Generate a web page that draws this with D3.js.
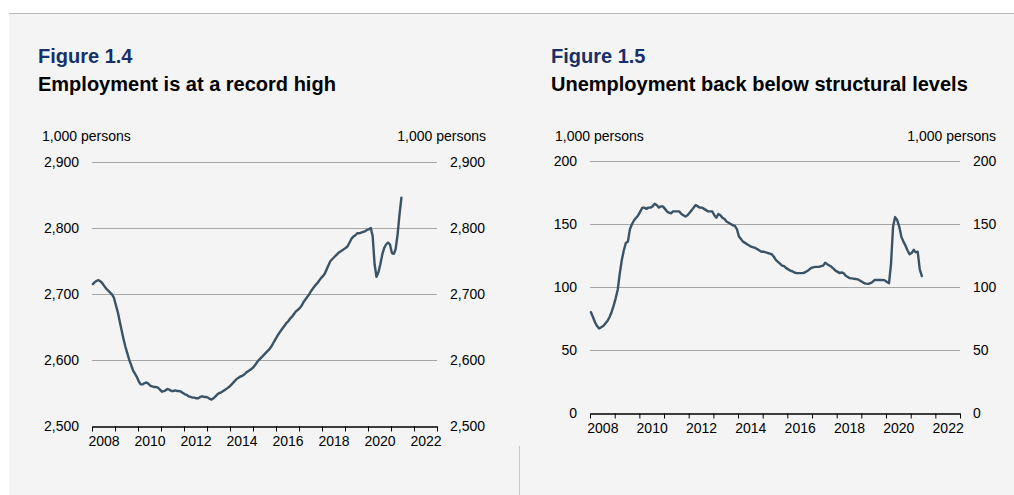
<!DOCTYPE html>
<html>
<head>
<meta charset="utf-8">
<script src="https://cdn.jsdelivr.net/npm/d3@7"></script>
<style>
  html, body { margin: 0; padding: 0; background: #ffffff; }
  svg { display: block; }
  text { font-family: "Liberation Sans", Arial, sans-serif; }
</style>
</head>
<body>
<svg id="chart" width="1014" height="495"></svg>
<script>
// Monthly series, January 2008 to June 2021 (1,000 persons)
const startMonth = new Date(2008, 0, 15);

const employment = [
  2715, 2718, 2720, 2721, 2719, 2716, 2712, 2708, 2705, 2702, 2699, 2694,
  2683, 2672, 2659, 2645, 2632, 2620, 2610, 2600, 2592, 2584, 2579, 2574,
  2567, 2563, 2563, 2565, 2566, 2564, 2561, 2560, 2559, 2559, 2558, 2555,
  2552, 2553, 2554, 2556, 2555, 2553, 2553, 2554, 2553, 2553, 2552, 2550,
  2548, 2547, 2545, 2544, 2543, 2543, 2542, 2542, 2544, 2545, 2544, 2544,
  2543, 2541, 2540, 2542, 2545, 2548, 2550, 2551, 2553, 2555, 2557, 2559,
  2562, 2565, 2568, 2571, 2573, 2575, 2576, 2578, 2581, 2583, 2585, 2587,
  2590, 2594, 2598, 2601, 2604, 2607, 2610, 2613, 2616, 2620, 2625, 2630,
  2635, 2640, 2644, 2648, 2652, 2656, 2659, 2663, 2666, 2670, 2674, 2676,
  2679, 2683, 2688, 2692, 2696, 2700, 2705, 2709, 2713, 2716, 2720, 2724,
  2727, 2731, 2737, 2744, 2750, 2753, 2756, 2759, 2762, 2764, 2766, 2768,
  2770, 2773, 2778, 2784, 2787, 2789, 2792, 2792, 2793, 2794, 2795, 2797,
  2798, 2800, 2788, 2745, 2726, 2733, 2745, 2760, 2770, 2775, 2778, 2775,
  2762, 2761, 2768, 2790, 2820, 2846
];

const unemployment = [
  80, 76, 72, 69, 67, 68, 69, 71, 73, 76, 80, 85,
  91, 98, 110, 121, 129, 135, 136, 146, 150, 153, 155, 157,
  160, 163, 163, 162, 163, 163, 164, 166, 165, 163, 164, 164,
  162, 160, 159, 158.5, 160, 160, 160, 160, 158, 157, 156, 157,
  159, 161, 163, 165, 164, 163, 163, 162, 161, 160, 160, 160,
  157, 155, 158, 157, 155, 154, 152, 151, 150, 149, 148.5, 146,
  140, 138, 136, 135, 134, 133, 132, 131.5, 131, 130, 129, 128,
  128, 127.5, 127, 126.5, 126, 124, 121.5, 120, 118.5, 117, 116.5, 115,
  114, 113, 112.5, 111.5, 111, 111, 111, 111, 111.5, 112.5, 113.5, 115,
  115.6, 116, 116, 116, 116.5, 117, 119.3, 118, 117, 116, 114.5, 113,
  112, 111, 111.5, 111, 109, 108, 107, 106.8, 106.5, 106.3, 106, 105,
  104, 103, 102.7, 102.5, 103, 104, 105.5, 105.6, 105.5, 105.5, 105.6, 105.3,
  104, 103, 118, 148, 155.5, 153, 148, 140, 136, 133, 129, 126,
  127, 129.5, 127.5, 128, 114, 108.7
];

const yearLabels = [2008, 2010, 2012, 2014, 2016, 2018, 2020, 2022];
const employmentTicks = [2500, 2600, 2700, 2800, 2900];
const unemploymentTicks = [0, 50, 100, 150, 200];

const unitLabel = "1,000 persons";
const figureLabels = ["Figure 1.4", "Figure 1.5"];
const titles = ["Employment is at a record high", "Unemployment back below structural levels"];

const svg = d3.select("#chart");
const fmt = d3.format(",");
const lineColor = "#3a5366";

// panel background, top rule and divider
svg.append("rect").attr("x", 9).attr("y", 13).attr("width", 1005).attr("height", 482).attr("fill", "#f4f4f4");
svg.append("line").attr("x1", 9).attr("x2", 1014).attr("y1", 13.5).attr("y2", 13.5)
  .attr("stroke", "#b9b9b9").attr("stroke-width", 1);
svg.append("line").attr("x1", 519.5).attr("x2", 519.5).attr("y1", 446).attr("y2", 495)
  .attr("stroke", "#c8c8c8").attr("stroke-width", 1);

function drawPanel(p) {
  const g = svg.append("g");

  g.append("text").attr("x", p.textX).attr("y", 63)
    .attr("font-size", 20).attr("font-weight", "bold").attr("fill", "#172f6b")
    .text(p.figure);
  g.append("text").attr("x", p.textX).attr("y", 91)
    .attr("font-size", 20).attr("font-weight", "bold").attr("fill", "#000")
    .text(p.title);

  g.append("text").attr("x", p.unitLeftX).attr("y", 141).attr("font-size", 14)
    .attr("fill", "#000").text(unitLabel);
  g.append("text").attr("x", p.unitRightX).attr("y", 141).attr("font-size", 14)
    .attr("text-anchor", "end").attr("fill", "#000").text(unitLabel);

  const x = d3.scaleTime()
    .domain([new Date(2008, 0, 1), new Date(2023, 0, 1)])
    .range([p.x0, p.x1]);
  const y = d3.scaleLinear().domain(p.yDomain).range([p.yBottom, p.yTop]);

  // horizontal gridlines
  g.append("g").selectAll("line")
    .data(p.yTicks.slice(1))
    .join("line")
    .attr("x1", p.x0).attr("x2", p.x1)
    .attr("y1", d => Math.round(y(d)) + 0.5).attr("y2", d => Math.round(y(d)) + 0.5)
    .attr("stroke", "#a6a6a6").attr("stroke-width", 1);

  // value labels on both sides
  const leftAxis = d3.axisLeft(y).tickValues(p.yTicks).tickSize(0).tickPadding(0).tickFormat(fmt);
  const la = g.append("g").attr("transform", `translate(${p.leftLabelX},0)`).call(leftAxis);
  la.select(".domain").remove();
  la.selectAll("text").attr("font-size", 14).attr("fill", "#000")
    .attr("font-family", "Liberation Sans, Arial, sans-serif");

  const rightAxis = d3.axisRight(y).tickValues(p.yTicks).tickSize(0).tickPadding(0).tickFormat(fmt);
  const ra = g.append("g").attr("transform", `translate(${p.rightLabelX},0)`).call(rightAxis);
  ra.select(".domain").remove();
  ra.selectAll("text").attr("font-size", 14).attr("fill", "#000")
    .attr("font-family", "Liberation Sans, Arial, sans-serif");

  // time axis: year ticks at boundaries, labels at mid-year
  const yearTicks = d3.timeYear.range(new Date(2008, 0, 1), new Date(2023, 0, 2));
  const xa = g.append("g").attr("transform", `translate(0,${p.yBottom + 0.5})`)
    .call(d3.axisBottom(x).tickValues(yearTicks).tickSize(5).tickSizeOuter(0).tickFormat(""));
  xa.select(".domain").attr("stroke", "#000").attr("stroke-width", 1.5);
  xa.selectAll(".tick line").attr("stroke", "#000").attr("stroke-width", 1);

  const labelAxis = d3.axisBottom(x)
    .tickValues(yearLabels.map(yr => new Date(yr, 6, 2)))
    .tickSize(0).tickPadding(0).tickFormat(d3.timeFormat("%Y"));
  const lx = g.append("g").attr("transform", `translate(0,${p.xLabelY})`).call(labelAxis);
  lx.select(".domain").remove();
  lx.selectAll("text").attr("font-size", 14).attr("fill", "#000")
    .attr("font-family", "Liberation Sans, Arial, sans-serif");

  // data line
  const pts = p.values.map((v, i) => ({ date: d3.timeMonth.offset(startMonth, i), v }));
  const line = d3.line().x(d => x(d.date)).y(d => y(d.v)).curve(d3.curveLinear);
  g.append("path").datum(pts)
    .attr("d", line)
    .attr("fill", "none")
    .attr("stroke", lineColor)
    .attr("stroke-width", 2.4)
    .attr("stroke-linejoin", "round")
    .attr("stroke-linecap", "round");
}

drawPanel({
  figure: figureLabels[0], title: titles[0], textX: 38,
  unitLeftX: 42, unitRightX: 486,
  x0: 92, x1: 437, yTop: 162, yBottom: 426,
  yDomain: [2500, 2900], yTicks: employmentTicks,
  leftLabelX: 79, rightLabelX: 450, xLabelY: 436,
  values: employment
});

drawPanel({
  figure: figureLabels[1], title: titles[1], textX: 551,
  unitLeftX: 555, unitRightX: 996,
  x0: 590, x1: 960, yTop: 161, yBottom: 413,
  yDomain: [0, 200], yTicks: unemploymentTicks,
  leftLabelX: 577, rightLabelX: 973, xLabelY: 423,
  values: unemployment
});
</script>
</body>
</html>
